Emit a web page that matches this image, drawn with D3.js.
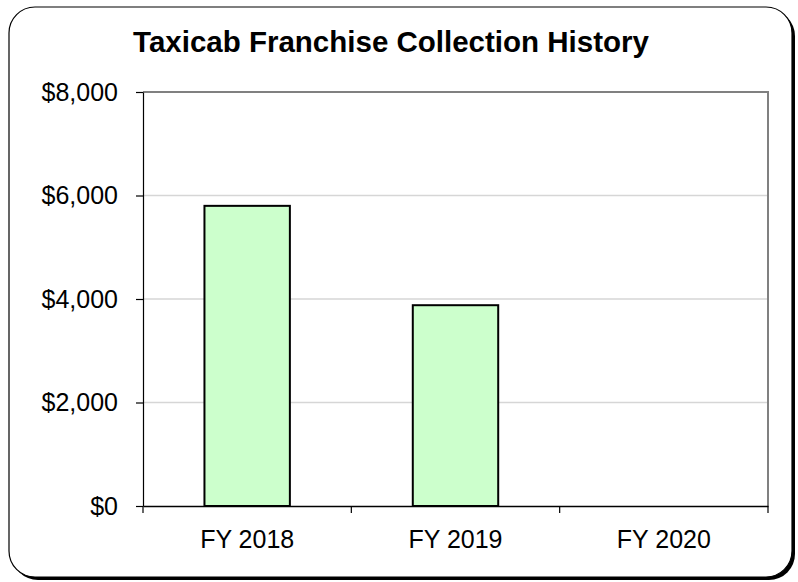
<!DOCTYPE html>
<html>
<head>
<meta charset="utf-8">
<script src="https://cdn.jsdelivr.net/npm/d3@7"></script>
<style>
  body { margin: 0; background: #fff; }
  text { font-family: "Liberation Sans", Arial, sans-serif; fill: #000; }
</style>
</head>
<body>
<div class="chart"></div>
<script>
// Chart data
var years = ["FY 2018", "FY 2019", "FY 2020"];
var collections = [5800, 3880, 0];
var yTicks = [0, 2000, 4000, 6000, 8000];

var svgWidth = 798;
var svgHeight = 582;

var margin = {
  top: 92,
  right: 30,
  bottom: 76,
  left: 143
};

var width = svgWidth - margin.left - margin.right;
var height = svgHeight - margin.top - margin.bottom;

var svg = d3.select(".chart")
  .append("svg")
  .attr("width", svgWidth)
  .attr("height", svgHeight);

// Rounded frame with drop shadow
svg.append("rect")
  .attr("x", 12).attr("y", 10)
  .attr("width", 783).attr("height", 570)
  .attr("rx", 26).attr("ry", 26)
  .attr("fill", "#000");

svg.append("rect")
  .attr("x", 9).attr("y", 7)
  .attr("width", 783).attr("height", 570)
  .attr("rx", 26).attr("ry", 26)
  .attr("fill", "#fff")
  .attr("stroke", "#000")
  .attr("stroke-width", 1.2);

// Title
svg.append("text")
  .attr("x", 391)
  .attr("y", 52)
  .attr("text-anchor", "middle")
  .style("font-size", "29.5px")
  .style("font-weight", "bold")
  .text("Taxicab Franchise Collection History");

var chartGroup = svg.append("g")
  .attr("transform", `translate(${margin.left}, ${margin.top})`);

// Scales
var xBandScale = d3.scaleBand()
  .domain(years)
  .range([0, width])
  .padding(0);

var yLinearScale = d3.scaleLinear()
  .domain([0, 8000])
  .range([height, 0]);

// Gridlines
chartGroup.selectAll(".grid")
  .data(yTicks.filter(d => d > 0 && d < 8000))
  .enter()
  .append("line")
  .attr("class", "grid")
  .attr("x1", 0)
  .attr("x2", width)
  .attr("y1", d => yLinearScale(d))
  .attr("y2", d => yLinearScale(d))
  .attr("stroke", "#d6d6d6")
  .attr("stroke-width", 1.5);

// Plot area border (top and right)
chartGroup.append("path")
  .attr("d", `M0,${yLinearScale(8000)}H${width}V${yLinearScale(0)}`)
  .attr("fill", "none")
  .attr("stroke", "#808080")
  .attr("stroke-width", 2);

// Bars
var barWidth = xBandScale.bandwidth() * 0.41;

chartGroup.selectAll(".bar")
  .data(years.map((y, i) => ({year: y, value: collections[i]})).filter(d => d.value > 0))
  .enter()
  .append("rect")
  .attr("class", "bar")
  .attr("x", d => xBandScale(d.year) + (xBandScale.bandwidth() - barWidth) / 2)
  .attr("y", d => yLinearScale(d.value))
  .attr("width", barWidth)
  .attr("height", d => height - yLinearScale(d.value))
  .attr("fill", "#ccffcc")
  .attr("stroke", "#000")
  .attr("stroke-width", 2);

// Y axis
var leftAxis = d3.axisLeft(yLinearScale)
  .tickValues(yTicks)
  .tickFormat(d => "$" + d3.format(",")(d))
  .tickSize(7)
  .tickSizeOuter(0)
  .tickPadding(18);

var yAxisGroup = chartGroup.append("g").call(leftAxis);
yAxisGroup.selectAll("text").style("font-size", "25px");
yAxisGroup.selectAll("line, path").attr("stroke", "#000").attr("stroke-width", 1.2);

// X axis labels
var bottomAxis = d3.axisBottom(xBandScale)
  .tickSize(0)
  .tickSizeOuter(0)
  .tickPadding(24);

var xAxisGroup = chartGroup.append("g")
  .attr("transform", `translate(0, ${height})`)
  .call(bottomAxis);
xAxisGroup.selectAll("text").style("font-size", "25px");
xAxisGroup.select(".domain").attr("stroke", "#000").attr("stroke-width", 1.5);

// Category boundary tick marks
var boundaries = years.map(d => xBandScale(d)).concat([width]);
xAxisGroup.selectAll(".bound")
  .data(boundaries)
  .enter()
  .append("line")
  .attr("class", "bound")
  .attr("x1", d => d)
  .attr("x2", d => d)
  .attr("y1", 0)
  .attr("y2", 7)
  .attr("stroke", "#000")
  .attr("stroke-width", 1.2);
</script>
</body>
</html>
